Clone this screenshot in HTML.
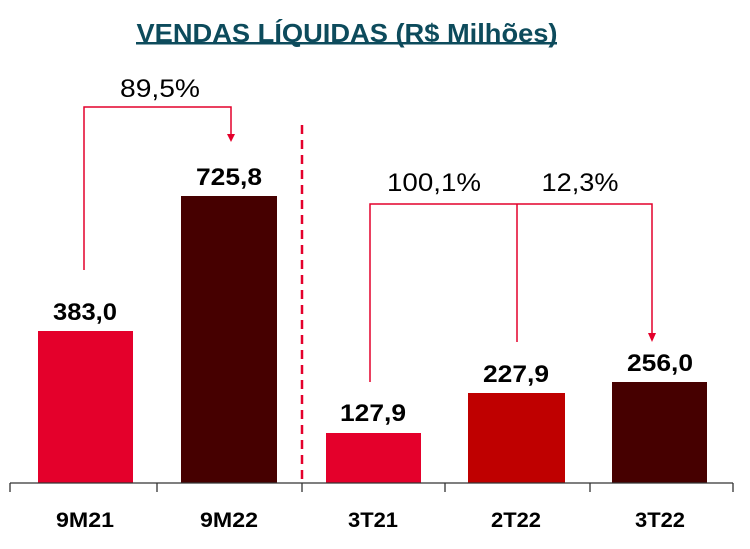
<!DOCTYPE html>
<html><head><style>body{margin:0;background:#fff}svg{display:block}</style></head><body>
<svg width="750" height="549" viewBox="0 0 750 549" font-family="Liberation Sans, sans-serif">
<text x="347" y="42" font-size="26" font-weight="bold" fill="#0d4b5c" text-anchor="middle" textLength="421" lengthAdjust="spacingAndGlyphs">VENDAS LÍQUIDAS (R$ Milhões)</text>
<rect x="136" y="42" width="421" height="2.5" fill="#0d4b5c"/>
<g fill="#e4002b"><rect x="38" y="331" width="95" height="152"/><rect x="326" y="433" width="95" height="50"/></g>
<rect x="181" y="196" width="96" height="287" fill="#460000"/>
<rect x="468" y="393" width="97" height="90" fill="#bf0000"/>
<rect x="612" y="382" width="95" height="101" fill="#460000"/>
<g stroke="#333" stroke-width="1.3"><line x1="10" y1="483" x2="733" y2="483"/>
<line x1="10" y1="483" x2="10" y2="492"/><line x1="157" y1="483" x2="157" y2="492"/><line x1="302" y1="483" x2="302" y2="492"/><line x1="445" y1="483" x2="445" y2="492"/><line x1="590" y1="483" x2="590" y2="492"/><line x1="733" y1="483" x2="733" y2="492"/></g>
<line x1="302" y1="125" x2="302" y2="483" stroke="#e4002b" stroke-width="2.5" stroke-dasharray="9,6"/>
<g stroke="#e4002b" stroke-width="1.5" fill="none">
<polyline points="84,270 84,107 231,107 231,136"/>
<polyline points="370,382 370,204 652,204 652,336"/>
<line x1="517" y1="204" x2="517" y2="342"/></g>
<g fill="#e4002b"><polygon points="227,134 235,134 231,142"/><polygon points="648,333 656,333 652,342"/></g>
<g font-size="25" fill="#000" text-anchor="middle">
<text x="160" y="97" textLength="80" lengthAdjust="spacingAndGlyphs">89,5%</text>
<text x="434" y="191" textLength="94" lengthAdjust="spacingAndGlyphs">100,1%</text>
<text x="580" y="191" textLength="77" lengthAdjust="spacingAndGlyphs">12,3%</text></g>
<g font-size="24" font-weight="bold" fill="#000" text-anchor="middle">
<text x="85" y="320" textLength="64" lengthAdjust="spacingAndGlyphs">383,0</text><text x="229" y="185" textLength="66" lengthAdjust="spacingAndGlyphs">725,8</text><text x="373" y="421" textLength="66" lengthAdjust="spacingAndGlyphs">127,9</text><text x="516" y="382" textLength="66" lengthAdjust="spacingAndGlyphs">227,9</text><text x="660" y="371" textLength="66" lengthAdjust="spacingAndGlyphs">256,0</text></g>
<g font-size="21" font-weight="bold" fill="#000" text-anchor="middle">
<text x="85" y="527" textLength="58" lengthAdjust="spacingAndGlyphs">9M21</text><text x="229" y="527" textLength="58" lengthAdjust="spacingAndGlyphs">9M22</text><text x="373" y="527" textLength="50" lengthAdjust="spacingAndGlyphs">3T21</text><text x="516" y="527" textLength="50" lengthAdjust="spacingAndGlyphs">2T22</text><text x="660" y="527" textLength="50" lengthAdjust="spacingAndGlyphs">3T22</text></g>
</svg>
</body></html>
